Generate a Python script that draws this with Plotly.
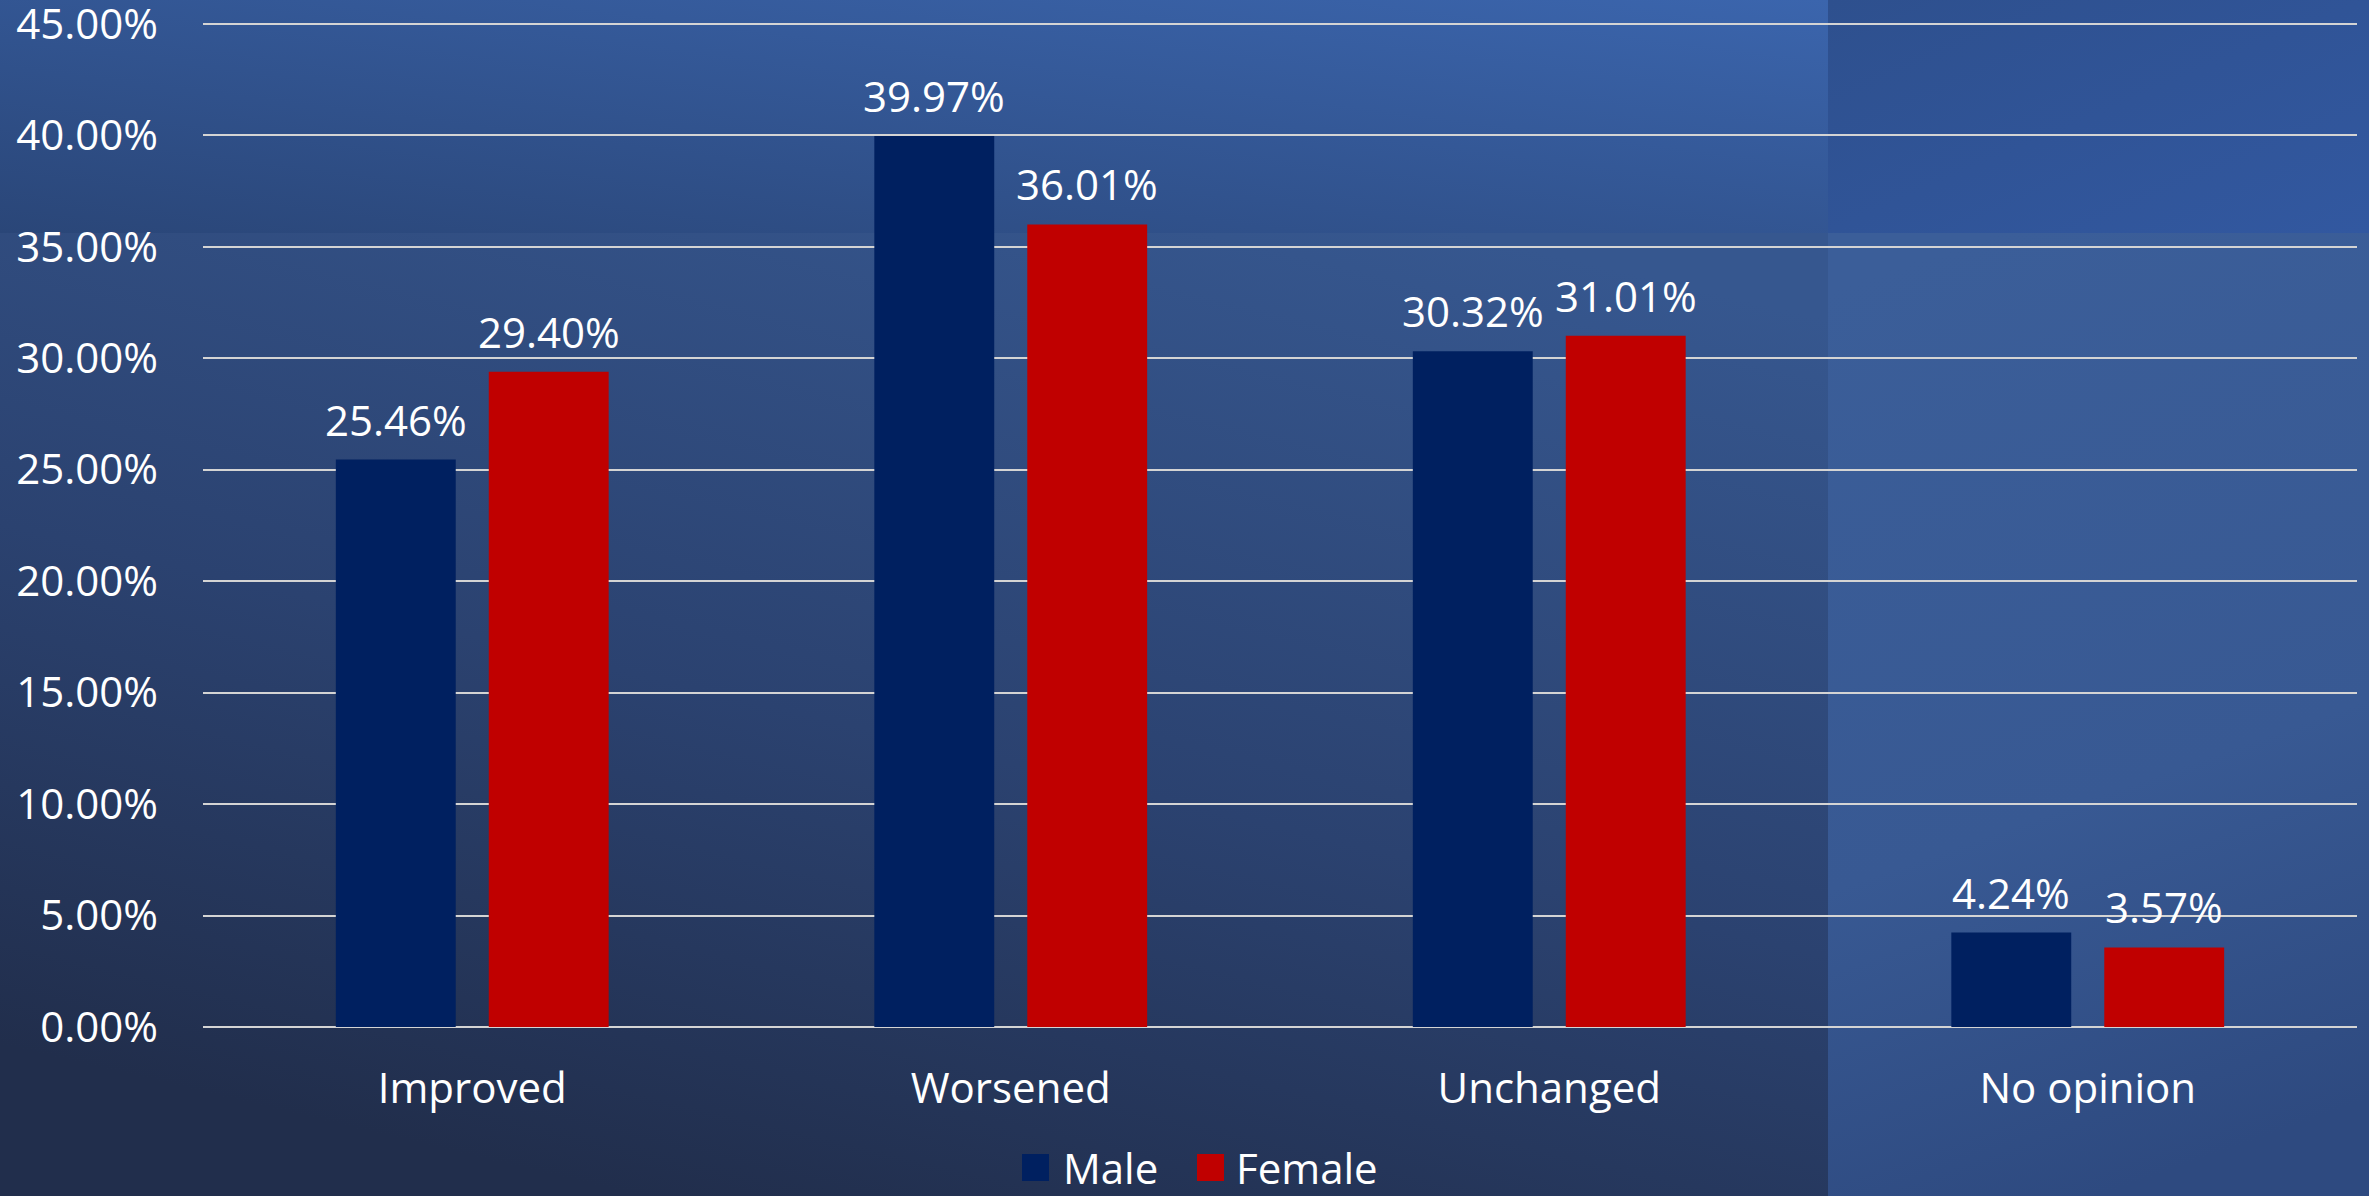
import base64
import plotly.graph_objects as go

categories = ["Improved", "Worsened", "Unchanged", "No opinion"]
male = [25.46, 39.97, 30.32, 4.24]
female = [29.40, 36.01, 31.01, 3.57]
series_names = ["Male", "Female"]
series_colors = ["#002060", "#C00000"]
y_ticks = [0, 5, 10, 15, 20, 25, 30, 35, 40, 45]

W, H = 2369, 1196
L, R, T, B = 203, 12, 2, 169
PW, PH = W - L - R, H - T - B
Y_TOP = 0.45 * PH / 1003.0   # 0.45 sits 24 px below the top edge
FONT = "Open Sans"
FS = 42

def px(xp):
    return (xp - L) / PW

def py(yp):
    return (H - B - yp) / PH

svg = f'''<svg xmlns="http://www.w3.org/2000/svg" width="{W}" height="{H}" viewBox="0 0 {W} {H}" preserveAspectRatio="none">
<defs>
<linearGradient id="gA" x1="0" y1="1" x2="1" y2="0"><stop offset="0" stop-color="#2a4678"/><stop offset="1" stop-color="#3b65ad"/></linearGradient>
<linearGradient id="gB" x1="0.8" y1="0" x2="0.35" y2="1"><stop offset="0" stop-color="#36578f"/><stop offset="0.55" stop-color="#2b4270"/><stop offset="1" stop-color="#212e4c"/></linearGradient>
<linearGradient id="gC" x1="0" y1="0" x2="1" y2="1"><stop offset="0" stop-color="#2e508e"/><stop offset="1" stop-color="#3258a0"/></linearGradient>
<linearGradient id="gD" x1="0.3" y1="0" x2="0.5" y2="1"><stop offset="0" stop-color="#3b5e99"/><stop offset="0.6" stop-color="#385993"/><stop offset="1" stop-color="#2e4a80"/></linearGradient>
</defs>
<rect x="0" y="0" width="1828" height="233" fill="url(#gA)"/>
<rect x="0" y="233" width="1828" height="963" fill="url(#gB)"/>
<rect x="1828" y="0" width="541" height="233" fill="url(#gC)"/>
<rect x="1828" y="233" width="541" height="963" fill="url(#gD)"/>
</svg>'''
bg_uri = "data:image/svg+xml;base64," + base64.b64encode(svg.encode()).decode()

fig = go.Figure()
for name, vals, col in zip(series_names, [male, female], series_colors):
    fig.add_trace(go.Bar(
        x=categories, y=[v / 100 for v in vals], name=name,
        marker=dict(color=col, line=dict(width=0)),
        showlegend=False, hoverinfo="skip",
    ))

annotations = []
for i, vals in enumerate([male, female]):
    shift = -76.5 if i == 0 else 76.5
    for c, v in zip(categories, vals):
        annotations.append(dict(
            x=c, y=v / 100, xref="x", yref="y", text=f"{v:.2f}%",
            showarrow=False, xanchor="center", yanchor="bottom",
            xshift=shift, yshift=10,
            font=dict(family=FONT, size=FS, color="white"),
        ))

# custom legend (large square keys)
shapes = []
legend_items = [(1022, 1064), (1197, 1237)]
LY = 1167
for (sx, tx), name, col in zip(legend_items, series_names, series_colors):
    shapes.append(dict(type="rect", xref="paper", yref="paper",
                       x0=px(sx), x1=px(sx + 27), y0=py(LY + 14), y1=py(LY - 13),
                       fillcolor=col, line=dict(width=0), layer="above"))
    annotations.append(dict(
        x=px(tx - 3), y=py(LY), xref="paper", yref="paper", text=name,
        showarrow=False, xanchor="left", yanchor="middle", height=44,
        font=dict(family=FONT, size=FS, color="white"),
    ))

fig.update_layout(
    width=W, height=H,
    margin=dict(l=L, r=R, t=T, b=B, pad=0, autoexpand=False),
    paper_bgcolor="rgba(0,0,0,0)",
    plot_bgcolor="rgba(0,0,0,0)",
    barmode="group", bargap=0.432, bargroupgap=0.216,
    font=dict(family=FONT, size=FS, color="white"),
    images=[dict(source=bg_uri, xref="paper", yref="paper",
                 x=-L / PW, y=1 + T / PH, sizex=W / PW, sizey=H / PH,
                 xanchor="left", yanchor="top", sizing="stretch", layer="below")],
    annotations=annotations,
    shapes=shapes,
    xaxis=dict(showgrid=False, showline=False, zeroline=False, ticks="",
               automargin=False,
               tickfont=dict(family=FONT, size=FS, color="white"),
               ticklabelstandoff=33, fixedrange=True),
    yaxis=dict(range=[0, Y_TOP], tickvals=[t / 100 for t in y_ticks],
               automargin=False,
               tickformat=".2%", showgrid=True, gridcolor="#d4d4d4", gridwidth=2,
               zeroline=True, zerolinecolor="#d4d4d4", zerolinewidth=2,
               showline=False, ticks="", ticklabeloverflow="allow",
               tickfont=dict(family=FONT, size=FS, color="white"),
               ticklabelstandoff=44, fixedrange=True),
    showlegend=False,
)

fig.write_html("out.html", config={"displayModeBar": False},
               post_script="document.body.style.margin='0';document.body.style.overflow='hidden';")
